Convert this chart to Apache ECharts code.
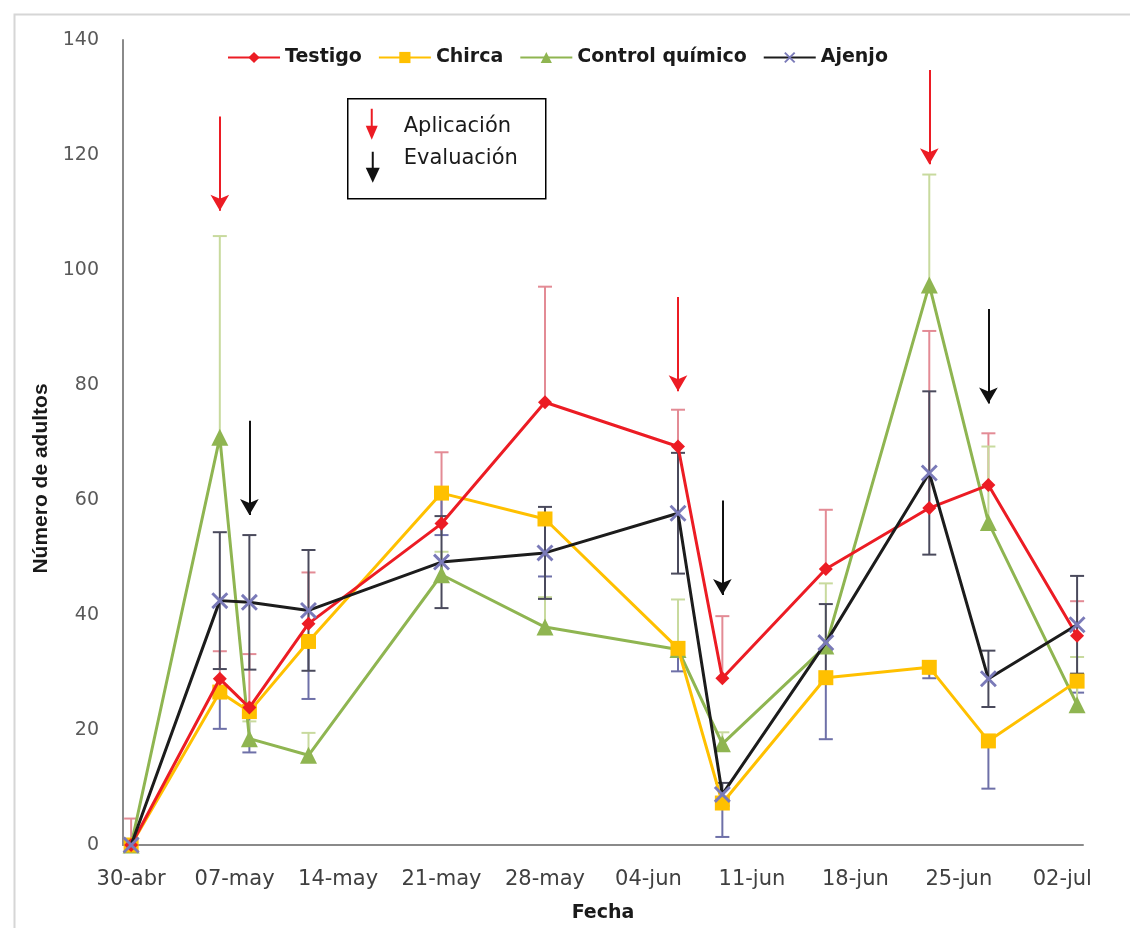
<!DOCTYPE html>
<html>
<head>
<meta charset="utf-8">
<script src="https://cdn.jsdelivr.net/npm/echarts@6/dist/echarts.min.js"></script>
<style>html,body{margin:0;padding:0;background:#fff}#c{width:1130px;height:928px}</style>
</head>
<body>
<div id="c"></div>
<script>
// Sample dates as days after 30-abr
const sampleDays = [0, 6, 8, 12, 21, 28, 37, 40, 47, 54, 58, 64];
const tickDays = [0, 7, 14, 21, 28, 35, 42, 49, 56, 63];
const tickLabels = ['30-abr', '07-may', '14-may', '21-may', '28-may', '04-jun', '11-jun', '18-jun', '25-jun', '02-jul'];

const testigo = [0, 28.9, 23.9, 38.5, 55.9, 77.0, 69.3, 29.0, 48.0, 58.6, 62.6, 36.4];
const chirca = [0, 26.6, 23.2, 35.4, 61.2, 56.7, 34.2, 7.3, 29.1, 30.9, 18.1, 28.5];
const control = [0, 70.9, 18.5, 15.6, 47.0, 37.9, 34.0, 17.6, 34.6, 97.4, 56.1, 24.4];
const ajenjo = [0, 42.5, 42.2, 40.8, 49.2, 50.8, 57.7, 8.8, 35.2, 64.7, 28.9, 38.3];

// error magnitudes (Testigo & Control: plus only; Chirca: minus only; Ajenjo: both)
const testigoErr = [4.6, 4.8, 9.3, 8.9, 12.4, 20.1, 6.4, 10.8, 10.3, 30.8, 9.0, 6.0];
const chircaErr = [0, 6.4, 7.1, 10.0, 7.3, 10.0, 4.0, 5.9, 10.7, 1.9, 8.3, 2.0];
const controlErr = [0, 35.0, 3.0, 3.9, 4.0, 5.2, 8.7, 2.0, 10.9, 19.2, 13.2, 8.3];
const ajenjoErr = [0, 11.9, 11.7, 10.5, 8.0, 8.0, 10.5, 2.0, 6.7, 14.2, 4.9, 8.5];

// annotation arrows: [day, yStart, yEnd]
const aplicacionArrows = [[6, 126.7, 110.3], [37, 95.3, 78.9], [54, 134.8, 118.4]];
const evaluacionArrows = [[8, 73.8, 57.4], [40, 59.9, 43.5], [58, 93.2, 76.8]];

const names = ['Testigo', 'Chirca', 'Control químico', 'Ajenjo'];
const colors = ['#ec1c24', '#ffc000', '#8fb551', '#1c1c1c'];

function pairs(vals) { return sampleDays.map((d, i) => [d, vals[i]]); }
function errData(vals, plus, minus) {
  return sampleDays.map((d, i) => [d, vals[i], plus ? plus[i] : 0, minus ? minus[i] : 0]);
}
function errSeries(data, color, z) {
  return {
    type: 'custom', silent: true, z: z, data: data,
    encode: { x: 0, y: 1 },
    renderItem: function (params, api) {
      const x = api.value(0), v = api.value(1), p = api.value(2), m = api.value(3);
      if (p <= 0 && m <= 0) return null;
      const top = api.coord([x, v + p]);
      const bot = api.coord([x, v - m]);
      const style = { stroke: color, lineWidth: 2 };
      const ch = [{ type: 'line', shape: { x1: top[0], y1: top[1], x2: bot[0], y2: bot[1] }, style: style }];
      if (p > 0) ch.push({ type: 'line', shape: { x1: top[0] - 7, y1: top[1], x2: top[0] + 7, y2: top[1] }, style: style });
      if (m > 0) ch.push({ type: 'line', shape: { x1: bot[0] - 7, y1: bot[1], x2: bot[0] + 7, y2: bot[1] }, style: style });
      return { type: 'group', children: ch };
    }
  };
}
function arrowLines(arr) {
  return arr.map(a => [{ coord: [a[0], a[1]] }, { coord: [a[0], a[2]] }]);
}

const xPath = 'path://M0,1.2L1.2,0L10,8.8L8.8,10Z M8.8,0L10,1.2L1.2,10L0,8.8Z';

const chart = echarts.init(document.getElementById('c'));
chart.setOption({
  animation: false,
  backgroundColor: '#fff',
  grid: { left: 123, right: 47, top: 40, bottom: 73, containLabel: false },
  legend: {
    data: names, top: 43, left: 222, itemWidth: 52, itemHeight: 14, itemGap: 16,
    textStyle: { fontFamily: 'DejaVu Sans', fontWeight: 'bold', fontSize: 19, color: '#1a1a1a' }
  },
  xAxis: {
    type: 'value', min: -0.55, max: 64.4,
    name: 'Fecha', nameLocation: 'middle', nameGap: 59,
    nameTextStyle: { fontFamily: 'DejaVu Sans', fontWeight: 'bold', fontSize: 19, color: '#1a1a1a' },
    axisLine: { show: true, onZero: false, lineStyle: { color: '#8a8a8a', width: 2 } },
    axisTick: { show: false },
    splitLine: { show: false },
    axisLabel: {
      customValues: tickDays, margin: 24,
      fontFamily: 'DejaVu Sans', fontSize: 21, color: '#404040',
      formatter: function (v) { const i = tickDays.indexOf(v); return i >= 0 ? tickLabels[i] : ''; }
    }
  },
  yAxis: {
    type: 'value', min: 0, max: 140, interval: 20,
    name: 'Número de adultos', nameLocation: 'middle', nameGap: 63, nameRotate: 90,
    nameTextStyle: { fontFamily: 'Liberation Sans', fontWeight: 'bold', fontSize: 21, color: '#1a1a1a', padding: [0, 72, 0, 0] },
    axisLine: { show: true, onZero: false, lineStyle: { color: '#8a8a8a', width: 2 } },
    axisTick: { show: false },
    splitLine: { show: false },
    axisLabel: { margin: 24, fontFamily: 'DejaVu Sans', fontSize: 19, color: '#595959' }
  },
  series: [
    errSeries(errData(testigo, testigoErr, null), '#e38b95', 1),
    errSeries(errData(chirca, null, chircaErr), '#6e70a8', 1),
    errSeries(errData(control, controlErr, null), '#c8da9e', 1),
    errSeries(errData(ajenjo, ajenjoErr, ajenjoErr), '#4a4a5c', 1),
    {
      name: 'Testigo', type: 'line', data: pairs(testigo), z: 5,
      symbol: 'diamond', symbolSize: 14, showAllSymbol: true,
      lineStyle: { color: colors[0], width: 3 }, itemStyle: { color: colors[0] },
      markLine: {
        silent: true, symbol: ['none', 'arrow'], symbolSize: [14, 16], animation: false,
        label: { show: false }, lineStyle: { color: '#ec1c24', width: 2, type: 'solid' },
        data: arrowLines(aplicacionArrows)
      }
    },
    {
      name: 'Chirca', type: 'line', data: pairs(chirca), z: 4,
      symbol: 'rect', symbolSize: 15, showAllSymbol: true,
      lineStyle: { color: colors[1], width: 3 }, itemStyle: { color: colors[1] },
      markLine: {
        silent: true, symbol: ['none', 'arrow'], symbolSize: [14, 16], animation: false,
        label: { show: false }, lineStyle: { color: '#111', width: 2, type: 'solid' },
        data: arrowLines(evaluacionArrows)
      }
    },
    {
      name: 'Control químico', type: 'line', data: pairs(control), z: 3,
      symbol: 'triangle', symbolSize: 17, showAllSymbol: true,
      lineStyle: { color: colors[2], width: 3 }, itemStyle: { color: colors[2] }
    },
    {
      name: 'Ajenjo', type: 'line', data: pairs(ajenjo), z: 6,
      symbol: xPath, symbolSize: 17, showAllSymbol: true,
      lineStyle: { color: colors[3], width: 3 }, itemStyle: { color: '#7a7ab8' }
    }
  ],
  graphic: [
    { type: 'rect', left: 12, top: 12, shape: { width: 1130, height: 930 }, style: { fill: 'none', stroke: '#d6d6d6', lineWidth: 2 }, silent: true },
    {
      type: 'group', left: 347, top: 98, silent: true,
      children: [
        { type: 'rect', shape: { x: 0, y: 0, width: 198, height: 100 }, style: { fill: '#fff', stroke: '#000', lineWidth: 1.5 } },
        { type: 'line', shape: { x1: 24, y1: 10, x2: 24, y2: 30 }, style: { stroke: '#ec1c24', lineWidth: 2 } },
        { type: 'polygon', shape: { points: [[18, 27], [30, 27], [24, 41]] }, style: { fill: '#ec1c24' } },
        { type: 'line', shape: { x1: 25, y1: 53, x2: 25, y2: 72 }, style: { stroke: '#111', lineWidth: 2 } },
        { type: 'polygon', shape: { points: [[18, 69], [32, 69], [25, 84]] }, style: { fill: '#111' } },
        { type: 'text', x: 56, y: 28, style: { text: 'Aplicación', font: '21px "DejaVu Sans"', fill: '#1a1a1a', verticalAlign: 'middle' } },
        { type: 'text', x: 56, y: 60, style: { text: 'Evaluación', font: '21px "DejaVu Sans"', fill: '#1a1a1a', verticalAlign: 'middle' } }
      ]
    }
  ]
});
</script>
</body>
</html>
